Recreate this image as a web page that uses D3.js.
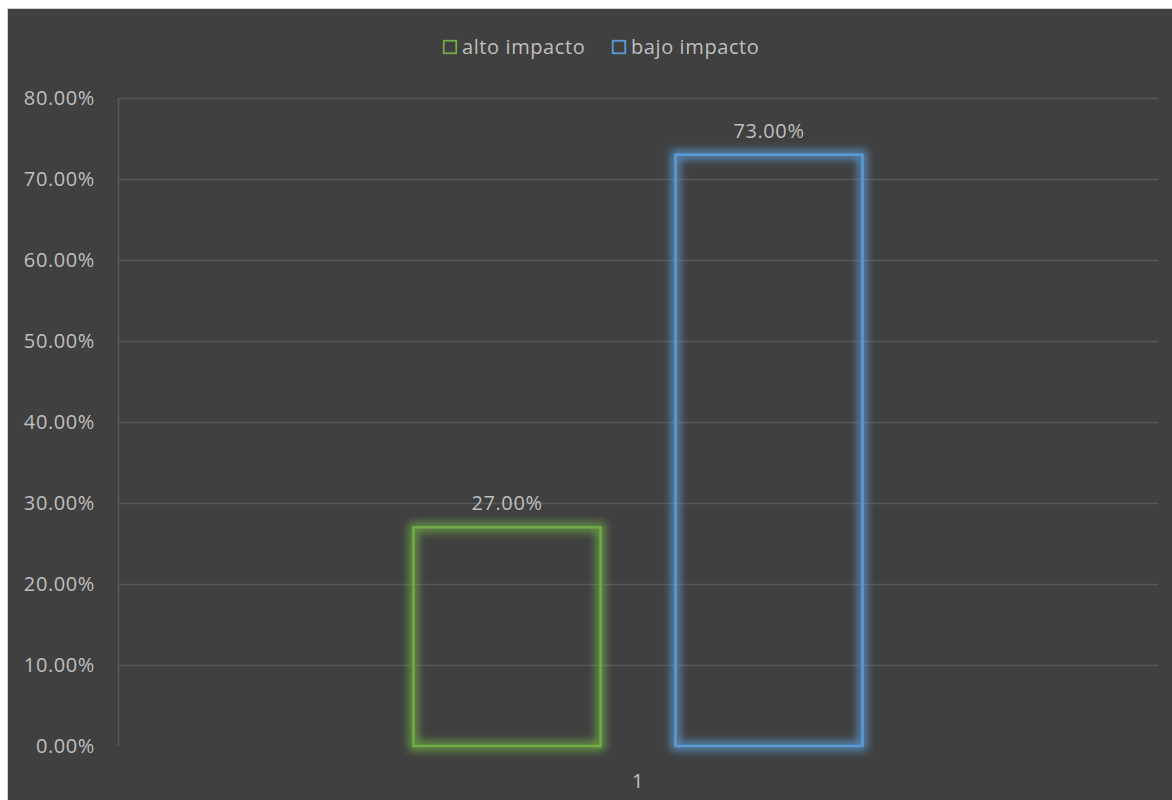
<!DOCTYPE html>
<html><head><meta charset="utf-8">
<script src="https://cdn.jsdelivr.net/npm/d3@7"></script>
<style>
html,body{margin:0;padding:0;background:#fff;}
svg{display:block;}
text{letter-spacing:0.6px;}
</style></head>
<body>
<script>
const categories = ["1"];
const seriesNames = ["alto impacto", "bajo impacto"];
const seriesValues = [0.27, 0.73];
const seriesColors = ["#70AD47", "#5B9BD5"];
const yTicks = [0, 0.1, 0.2, 0.3, 0.4, 0.5, 0.6, 0.7, 0.8];

const W = 1172, H = 800;
const font = "'Open Sans', sans-serif";
const fs = 20;
const svg = d3.select("body").append("svg").attr("width", W).attr("height", H);

const defs = svg.append("defs");
const f = defs.append("filter").attr("id","glow").attr("x","-20%").attr("y","-20%").attr("width","140%").attr("height","140%");
f.append("feGaussianBlur").attr("stdDeviation", 4);

svg.append("rect").attr("x",7.5).attr("y",8.5).attr("width",W).attr("height",H)
  .attr("fill","#404040").attr("stroke","#d0d0d0").attr("stroke-width",1);

const plot = {left:118, right:1158, top:98, bottom:746};
const y = d3.scaleLinear().domain([0,0.8]).range([plot.bottom, plot.top]);
const x0 = d3.scaleBand().domain(categories).range([plot.left, plot.right]);
const cx = x0(categories[0]) + x0.bandwidth()/2;
const x1 = d3.scaleBand().domain(seriesNames).range([cx-224.5, cx+224.5]).paddingInner(0.286).paddingOuter(0);

// gridlines
const grid = svg.append("g");
grid.selectAll("line.h").data(yTicks.filter(d=>d>0)).join("line")
  .attr("x1", plot.left).attr("x2", plot.right)
  .attr("y1", d=>Math.round(y(d))+0.5).attr("y2", d=>Math.round(y(d))+0.5)
  .attr("stroke","#575757").attr("stroke-width",1.5);
grid.append("line").attr("x1",plot.left+0.5).attr("x2",plot.left+0.5)
  .attr("y1",plot.top).attr("y2",plot.bottom).attr("stroke","#575757").attr("stroke-width",1.5);

// y axis labels
const fmt = d3.format(".2%");
const yAxis = d3.axisLeft(y).tickValues(yTicks).tickFormat(fmt).tickSize(0).tickPadding(23);
const ya = svg.append("g").attr("transform",`translate(${plot.left},0)`).call(yAxis);
ya.select(".domain").remove();
ya.selectAll("text").attr("fill","#bfbfbf").attr("font-family",font).attr("font-size",fs);

// x axis label
const xAxis = d3.axisBottom(x0).tickSize(0).tickPadding(28);
const xa = svg.append("g").attr("transform",`translate(0,${plot.bottom})`).call(xAxis);
xa.select(".domain").remove();
xa.selectAll("text").attr("fill","#bfbfbf").attr("font-family",font).attr("font-size",fs);

// bars
const data = seriesNames.map((n,i)=>({name:n, value:seriesValues[i], color:seriesColors[i]}));
const bars = svg.append("g");
bars.selectAll("rect.glow").data(data).join("rect")
  .attr("x", d=>x1(d.name)).attr("width", x1.bandwidth())
  .attr("y", d=>y(d.value)).attr("height", d=>y(0)-y(d.value))
  .attr("fill","none").attr("stroke", d=>d.color).attr("stroke-width",9).attr("opacity",0.8)
  .attr("filter","url(#glow)");
bars.selectAll("rect.bar").data(data).join("rect")
  .attr("x", d=>x1(d.name)).attr("width", x1.bandwidth())
  .attr("y", d=>y(d.value)).attr("height", d=>y(0)-y(d.value))
  .attr("fill","none").attr("stroke", d=>d.color).attr("stroke-width",2.5);

// labels
bars.selectAll("text").data(data).join("text")
  .attr("x", d=>x1(d.name)+x1.bandwidth()/2).attr("y", d=>y(d.value)-17)
  .attr("text-anchor","middle").attr("fill","#bfbfbf").attr("font-family",font).attr("font-size",fs)
  .text(d=>fmt(d.value));

// legend
const leg = svg.append("g");
const legX = [443, 612];
const li = leg.selectAll("g").data(data).join("g").attr("transform",(d,i)=>`translate(${legX[i]},40)`);
li.append("rect").attr("x",0.75).attr("y",0.75).attr("width",12.5).attr("height",12.5)
  .attr("fill","none").attr("stroke",d=>d.color).attr("stroke-width",1.8);
li.append("text").attr("x",19).attr("y",14).attr("fill","#bfbfbf").attr("font-family",font).attr("font-size",fs)
  .text(d=>d.name);
</script>
</body></html>
